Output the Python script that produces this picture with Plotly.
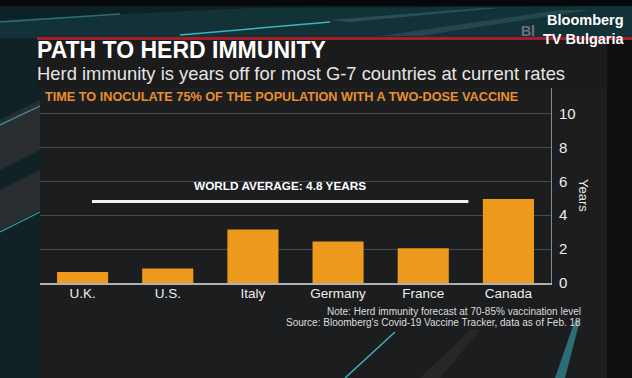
import plotly.graph_objects as go

# ---- data ----
countries = ["U.K.", "U.S.", "Italy", "Germany", "France", "Canada"]
years = [0.65, 0.85, 3.15, 2.45, 2.05, 4.95]
world_avg = 4.8
y_ticks = [0, 2, 4, 6, 8, 10]

title = "PATH TO HERD IMMUNITY"
subtitle = "Herd immunity is years off for most G-7 countries at current rates"
chart_label = "TIME TO INOCULATE 75% OF THE POPULATION WITH A TWO-DOSE VACCINE"
avg_label = "WORLD AVERAGE: 4.8 YEARS"
note_lines = ["Note: Herd immunity forecast at 70-85% vaccination level",
              "Source: Bloomberg's Covid-19 Vaccine Tracker, data as of Feb. 18"]

# ---- geometry helpers (pixel -> paper) ----
W, H = 632, 378
L, R, T, B = 40, 551, 88, 283
def px(x):
    return (x - L) / (R - L)
def py(y):
    return (B - y) / (B - T)

FONT = "Liberation Sans, Arial, sans-serif"
ORANGE = "#ee9a1c"

fig = go.Figure()
fig.add_trace(go.Bar(x=countries, y=years, marker=dict(color=ORANGE, line=dict(width=0)),
                     width=0.6, hoverinfo="skip"))

shapes = []
def rect(x0, y0, x1, y1, color, layer="below"):
    shapes.append(dict(type="rect", xref="paper", yref="paper", x0=px(x0), x1=px(x1),
                       y0=py(y1), y1=py(y0), fillcolor=color, line=dict(width=0), layer=layer))
def poly(pts, color, layer="below"):
    d = "M " + " L ".join(f"{px(a)},{py(b)}" for a, b in pts) + " Z"
    shapes.append(dict(type="path", xref="paper", yref="paper", path=d, fillcolor=color,
                       line=dict(width=0), layer=layer))
def seg(x0, y0, x1, y1, color, w):
    shapes.append(dict(type="line", xref="paper", yref="paper", x0=px(x0), y0=py(y0),
                       x1=px(x1), y1=py(y1), line=dict(color=color, width=w), layer="below"))

# background
rect(0, 0, W, H, "#121617")
rect(0, 0, W, 38, "#0c2226")
rect(0, 0, W, 6, "#05090b")
poly([(0, 20), (250, 8), (632, 6), (632, 38), (0, 38)], "#123238")
poly([(330, 20), (480, 8), (500, 8), (350, 22)], "#2a4e55")
poly([(380, 36), (560, 10), (590, 10), (420, 36)], "#24474d")
seg(180, 35, 330, 22, "#3fb3c0", 1.5)
seg(0, 22, 120, 14, "#2b6f78", 1.5)
# left strip
rect(0, 38, 40, H, "#0f2226")
poly([(0, 120), (40, 100), (40, 150), (0, 170)], "#2a2e31")
poly([(0, 190), (40, 170), (40, 210), (0, 230)], "#2a2e31")
seg(0, 125, 40, 106, "#3b9aa6", 1.2)
seg(0, 232, 40, 212, "#3b9aa6", 1.2)
# main panel
rect(40, 38, 607, H, "#1c1d1f")
rect(37, 38, W, 88, "#1b1b1c")
rect(607, 38, W, H, "#0e1011")
# streaks at the bottom
seg(345, 378, 395, 332, "#3fb3c0", 1.5)
poly([(420, 378), (470, 330), (480, 330), (440, 378)], "#262728")
poly([(555, 378), (575, 320), (580, 320), (565, 378)], "#2d6d75")
# red line
rect(37, 37, W, 40, "#a51d2b")
# world average line
shapes.append(dict(type="line", xref="x", yref="y", x0=0.11, x1=4.53, y0=world_avg, y1=world_avg,
                   line=dict(color="#f2f2f2", width=3), layer="above"))

def ann(text, x, y, size, color, xanchor="left", angle=0, align="left"):
    return dict(text=text, x=px(x), y=py(y), xref="paper", yref="paper", xanchor=xanchor,
                yanchor="middle", showarrow=False, textangle=angle, align=align,
                font=dict(family=FONT, size=size, color=color))

annotations = [
    ann(f"<b>{title}</b>", 35, 50, 23, "#ffffff"),
    ann(subtitle, 35, 73, 18.4, "#e6e6e6"),
    ann(f"<b>{chart_label}</b>", 43, 97, 12.7, "#e8902e"),
    ann(f"<b>{avg_label}</b>", 280, 186, 11.8, "#ffffff", "center"),
    ann("Years", 584, 195, 13, "#e6e6e6", "center", 90),
    ann(note_lines[0], 583, 311, 10, "#dddddd", "right"),
    ann(note_lines[1], 583, 322, 10, "#dddddd", "right"),
    ann("<b>Bl</b>", 537, 31, 14, "#6e7476", "right"),
    ann("<b>Bloomberg<br>TV Bulgaria</b>", 627, 30, 14.5, "#ffffff", "right", align="right"),
]

fig.update_layout(
    width=W, height=H,
    margin=dict(l=L, r=W - R, t=T, b=H - B, pad=0),
    paper_bgcolor="#121617", plot_bgcolor="rgba(0,0,0,0)",
    showlegend=False, bargap=0.4,
    shapes=shapes, annotations=annotations,
    xaxis=dict(showgrid=False, showline=True, linecolor="#b0b0b0", linewidth=1.5,
               ticks="", tickfont=dict(family=FONT, size=13.5, color="#eeeeee"),
               ticklabelstandoff=-3, range=[-0.5, 5.5], fixedrange=True),
    yaxis=dict(side="right", range=[0, 11.5], tickvals=y_ticks, showgrid=True,
               gridcolor="#4a4b4d", gridwidth=1, zeroline=False,
               showline=True, linecolor="#8a8a8a", linewidth=1, ticks="",
               tickfont=dict(family=FONT, size=15, color="#eeeeee"), ticklabelstandoff=4,
               fixedrange=True),
)

fig.write_html("out.html", config={"displayModeBar": False},
               post_script="document.body.style.margin='0';document.body.style.overflow='hidden';")
